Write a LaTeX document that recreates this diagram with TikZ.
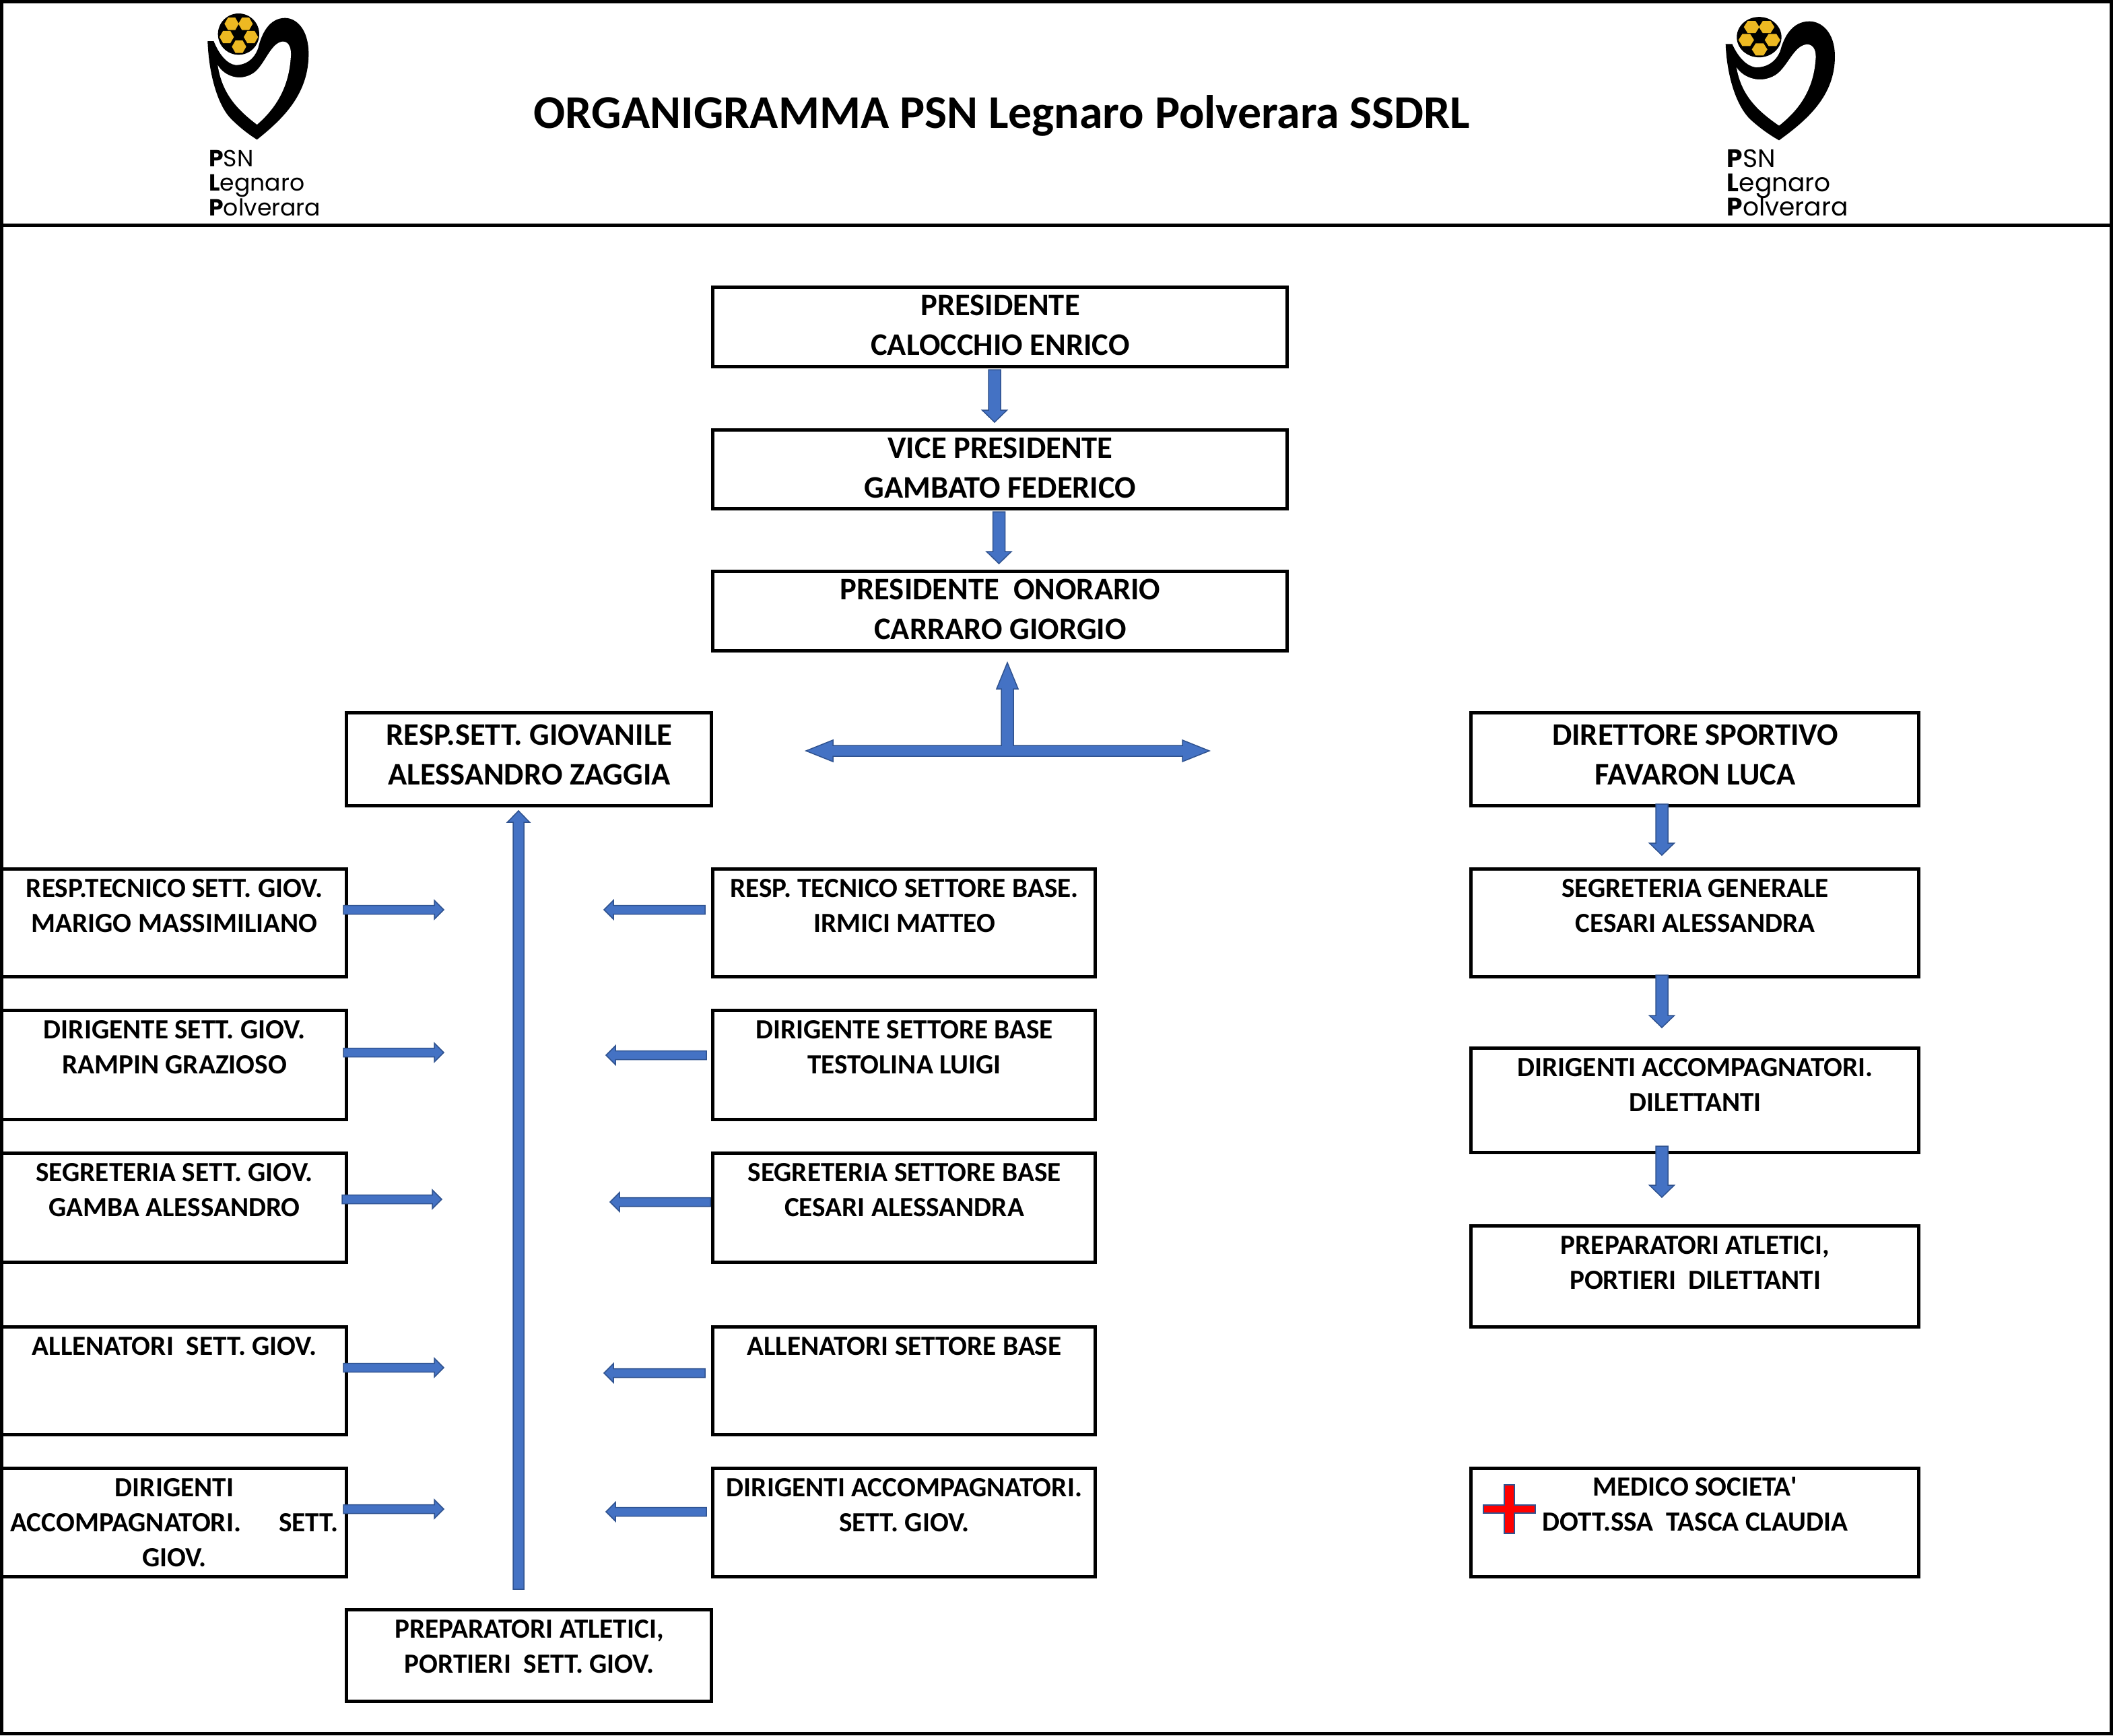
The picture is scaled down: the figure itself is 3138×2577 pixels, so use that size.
\documentclass[tikz,border=0pt]{standalone}
\usepackage{fontspec}
\setmainfont{Carlito}
\newfontfamily\plainfont{Carlito}
\newfontfamily\logofont{Poppins}
\usetikzlibrary{calc}
\definecolor{arrowfill}{HTML}{4472C4}
\definecolor{arrowline}{HTML}{2F528F}
\definecolor{ballgold}{HTML}{EDB922}
\tikzset{
  boxst/.style={draw=black,line width=2.5pt,fill=white,inner sep=0pt,outer sep=0pt},
  smalltxt/.style={font=\fontsize{20.6}{26}\selectfont\bfseries,align=center,inner sep=0pt,anchor=north},
  bigtxt/.style={font=\fontsize{23.3}{29.5}\selectfont\bfseries,align=center,inner sep=0pt,anchor=north},
  blockarrow/.style={fill=arrowfill,draw=arrowline,line width=0.75pt,line join=miter},
  logotxt/.style={inner sep=0pt,anchor=base west},
}
% box with its text: name, x0,y0,x1,y1, text style, offset of text from top, text
\newcommand{\orgbox}[8]{%
  \node[boxst,minimum width={(#4-#2)*0.5pt},minimum height={(#5-#3)*0.5pt}] (#1) at ({(#2+#4)/2},{(#3+#5)/2}) {};
  \node[#6] (#1-t) at ($(#1.north)+(1,#7)$) {#8};
}
% block arrow: from, to, half shaft, half head, head length (px)
\newcommand{\barrow}[5]{%
  \coordinate (ba-s) at #1;
  \coordinate (ba-e) at #2;
  \coordinate (ba-b) at ($(ba-e)!#5*0.5pt!(ba-s)$);
  \draw[blockarrow] ($(ba-s)!#3*0.5pt!90:(ba-e)$) -- ($(ba-b)!#3*0.5pt!90:(ba-e)$) -- ($(ba-b)!#4*0.5pt!90:(ba-e)$)
    -- (ba-e) -- ($(ba-b)!#4*0.5pt!-90:(ba-e)$) -- ($(ba-b)!#3*0.5pt!-90:(ba-e)$) -- ($(ba-s)!#3*0.5pt!-90:(ba-e)$) -- cycle;
}
\newcommand{\vertarrow}[2]{\barrow{#1}{#2}{9}{18.5}{18}}
\newcommand{\horarrow}[2]{\barrow{#1}{#2}{6.5}{14}{14}}
% logo artwork in the frame of a 3x crop
\newcommand{\heartball}{%
  \fill[black] (145,183) .. controls (150,330) and (190,470) .. (250,530)
     .. controls (290,570) and (330,600) .. (365,622)
     .. controls (480,530) and (595,420) .. (595,240)
     .. controls (595,130) and (540,80) .. (490,80)
     .. controls (420,80) and (385,150) .. (370,215)
     .. controls (350,270) and (310,290) .. (270,290)
     .. controls (230,285) and (195,240) .. (172,183) -- cycle;
  \fill[white] (190,290) .. controls (220,340) and (290,365) .. (350,325)
     .. controls (400,290) and (425,190) .. (480,185)
     .. controls (510,185) and (520,220) .. (515,260)
     .. controls (505,400) and (440,490) .. (365,555)
     .. controls (280,490) and (210,420) .. (190,290) -- cycle;
  \fill[black] (283,152) circle (92);
  \foreach \cx/\cy in {252/106,314/106,230/165,338/165,285/208}
    \fill[ballgold] (\cx,\cy) +(0:32) -- +(60:32) -- +(120:32) -- +(180:32) -- +(240:32) -- +(300:32) -- cycle;
}
\begin{document}
\begin{tikzpicture}[x=0.5pt,y=-0.5pt]
\useasboundingbox (0,0) rectangle (3138,2577);
\fill[white] (0,0) rectangle (3138,2577);
\node[draw=black,line width=2.5pt,inner sep=0pt,outer sep=0pt,minimum width=1566.5pt,minimum height=1286pt] (frame) at (1569,1288.5) {};
\coordinate (hl) at (0,334);
\draw[black,line width=2.5pt] (frame.west |- hl) -- (frame.east |- hl);

% title
\node[font=\fontsize{34.9}{40}\selectfont\bfseries,inner sep=0pt,anchor=base] (title) at (1488,190) {ORGANIGRAMMA PSN Legnaro Polverara SSDRL};

% logos
\begin{scope}[shift={(260,0)},x=0.16667pt,y=-0.16667pt]
  \heartball
  \node[logotxt,font=\logofont\fontsize{17.3}{20}\selectfont] (l1a) at (150,742) {\textbf{P}SN};
  \node[logotxt,font=\logofont\fontsize{17.3}{20}\selectfont] (l1b) at (150,851) {\textbf{L}egnaro};
  \node[logotxt,font=\logofont\fontsize{17.3}{20}\selectfont] (l1c) at (150,960) {\textbf{P}olverara};
\end{scope}
\begin{scope}[shift={(2520,0)},x=0.16667pt,y=-0.16667pt]
  \begin{scope}[shift={(128,95)},xscale=1.082,yscale=0.978,shift={(-145,-80)}]
    \heartball
  \end{scope}
  \node[logotxt,font=\logofont\fontsize{18.8}{20}\selectfont] (l2a) at (133,745) {\textbf{P}SN};
  \node[logotxt,font=\logofont\fontsize{18.8}{20}\selectfont] (l2b) at (133,852) {\textbf{L}egnaro};
  \node[logotxt,font=\logofont\fontsize{18.8}{20}\selectfont] (l2c) at (133,960) {\textbf{P}olverara};
\end{scope}

% top boxes
\orgbox{pres}{1058}{426}{1911}{544}{bigtxt}{12}{PRESIDENTE\\CALOCCHIO ENRICO}
\orgbox{vice}{1058}{638}{1911}{755}{bigtxt}{12}{VICE PRESIDENTE\\GAMBATO FEDERICO}
\orgbox{onor}{1058}{848}{1911}{966}{bigtxt}{12}{PRESIDENTE\ \ ONORARIO\\CARRARO GIORGIO}
\orgbox{giov}{514}{1058}{1056}{1196}{bigtxt}{18}{RESP.SETT. GIOVANILE\\ALESSANDRO ZAGGIA}
\orgbox{dir}{2184}{1058}{2849}{1196}{bigtxt}{18}{DIRETTORE SPORTIVO\\FAVARON LUCA}

% left column
\orgbox{la}{2}{1290}{514}{1450}{smalltxt}{15}{RESP.TECNICO SETT. GIOV.\\MARIGO MASSIMILIANO}
\orgbox{lb}{2}{1500}{514}{1662}{smalltxt}{15}{DIRIGENTE SETT. GIOV.\\RAMPIN GRAZIOSO}
\orgbox{lc}{2}{1712}{514}{1874}{smalltxt}{15}{SEGRETERIA SETT. GIOV.\\GAMBA ALESSANDRO}
\orgbox{ld}{2}{1970}{514}{2130}{smalltxt}{15}{ALLENATORI\ \ SETT. GIOV.}
\orgbox{le}{2}{2180}{514}{2341}{smalltxt}{15}{DIRIGENTI\\ACCOMPAGNATORI.\ \ \ \ \ \ SETT.\\GIOV.}

% middle column
\orgbox{ma}{1058}{1290}{1626}{1450}{smalltxt}{15}{RESP. TECNICO SETTORE BASE.\\IRMICI MATTEO}
\orgbox{mb}{1058}{1500}{1626}{1662}{smalltxt}{15}{DIRIGENTE SETTORE BASE\\TESTOLINA LUIGI}
\orgbox{mc}{1058}{1712}{1626}{1874}{smalltxt}{15}{SEGRETERIA SETTORE BASE\\CESARI ALESSANDRA}
\orgbox{md}{1058}{1970}{1626}{2130}{smalltxt}{15}{ALLENATORI SETTORE BASE}
\orgbox{me}{1058}{2180}{1626}{2341}{smalltxt}{15}{DIRIGENTI ACCOMPAGNATORI.\\SETT. GIOV.}

% right column
\orgbox{ra}{2184}{1290}{2849}{1450}{smalltxt}{15}{SEGRETERIA GENERALE\\CESARI ALESSANDRA}
\orgbox{rb}{2184}{1556}{2849}{1711}{smalltxt}{15}{DIRIGENTI ACCOMPAGNATORI.\\DILETTANTI}
\orgbox{rc}{2184}{1820}{2849}{1970}{smalltxt}{15}{PREPARATORI ATLETICI,\\PORTIERI\ \ DILETTANTI}
\orgbox{rd}{2184}{2180}{2849}{2341}{smalltxt}{13}{MEDICO SOCIETA{\plainfont\bfseries '}\\DOTT.SSA\ \ TASCA CLAUDIA}

% bottom box
\orgbox{prep}{514}{2390}{1056}{2526}{smalltxt}{15}{PREPARATORI ATLETICI,\\PORTIERI\ \ SETT. GIOV.}

% red cross
\draw[fill=red,draw=arrowline,line width=1.2pt] (2234,2205) -- (2249,2205) -- (2249,2235) -- (2280,2235) -- (2280,2247) -- (2249,2247) -- (2249,2277) -- (2234,2277) -- (2234,2247) -- (2203,2247) -- (2203,2235) -- (2234,2235) -- cycle;

% vertical arrows
\vertarrow{($(pres.south)+(-7.5,5)$)}{($(vice.north)+(-7.5,-11)$)}
\vertarrow{($(vice.south)+(-1,5)$)}{($(onor.north)+(-1,-11)$)}
\vertarrow{($(dir.south)+(-48.5,-2)$)}{($(ra.north)+(-48.5,-20)$)}
\vertarrow{($(ra.south)+(-48.5,-2)$)}{($(rb.north)+(-48.5,-30)$)}
\vertarrow{($(rb.south)+(-48.5,-9)$)}{($(rc.north)+(-48.5,-42)$)}
\barrow{($(prep.north)+(-15,-30)$)}{($(giov.south)+(-15,8)$)}{8}{16.5}{17}

% T arrow
\coordinate (tj) at (1496,1115);
\draw[blockarrow] ([shift={(-299,0)}]tj) -- ++(40,-16) -- ++(0,8) -- ++(250,0) -- ++(0,-84) -- ++(-7,0) -- ++(16,-39) -- ++(16,39) -- ++(-7,0) -- ++(0,84) -- ++(251,0) -- ++(0,-8) -- ++(40,16) -- ++(-40,16) -- ++(0,-8) -- ++(-519,0) -- ++(0,8) -- cycle;

% horizontal arrows: left column
\coordinate (tla) at (659,1351);
\coordinate (tlb) at (659,1563);
\coordinate (tlc) at (656,1781);
\coordinate (tld) at (659,2031);
\coordinate (tle) at (659,2241);
\horarrow{([xshift=-2pt]la.east |- tla)}{(tla)}
\horarrow{([xshift=-2pt]lb.east |- tlb)}{(tlb)}
\horarrow{([xshift=-3pt]lc.east |- tlc)}{(tlc)}
\horarrow{([xshift=-2pt]ld.east |- tld)}{(tld)}
\horarrow{([xshift=-2pt]le.east |- tle)}{(tle)}
% horizontal arrows: middle column
\coordinate (tma) at (897,1351);
\coordinate (tmb) at (900,1567);
\coordinate (tmc) at (906,1785);
\coordinate (tmd) at (897,2039);
\coordinate (tme) at (900,2245);
\horarrow{([xshift=-5.5pt]ma.west |- tma)}{(tma)}
\horarrow{([xshift=-4.5pt]mb.west |- tmb)}{(tmb)}
\horarrow{([xshift=-1.5pt]mc.west |- tmc)}{(tmc)}
\horarrow{([xshift=-5.5pt]md.west |- tmd)}{(tmd)}
\horarrow{([xshift=-4.5pt]me.west |- tme)}{(tme)}
\end{tikzpicture}
\end{document}
